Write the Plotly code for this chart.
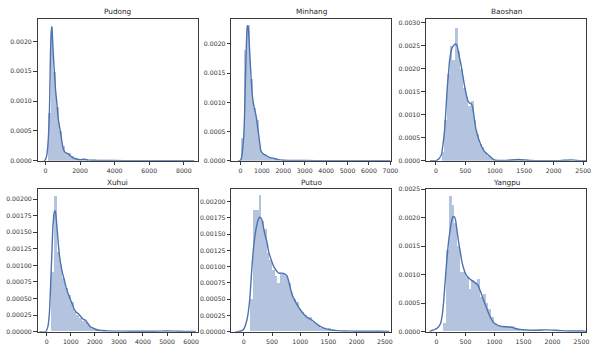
import plotly.graph_objects as go

# ---------------- data ----------------
districts = ["Pudong", "Minhang", "Baoshan", "Xuhui", "Putuo", "Yangpu"]

# histogram bins: first edge, bin width, densities (50 bins each)
pudong_bin_start, pudong_bin_width = 100, 168
pudong_hist = [0.0008, 0.00225, 0.0015, 0.0009, 0.0005, 0.00025, 0.00014, 0.00013, 0.00008, 0.00005,
               0.00003, 0.00002, 0.00003, 0.00002, 0.00001, 0.00001, 0.000006, 0.000006, 0.000004, 0.000006,
               0.000004, 0.000002, 0.000004, 0.000002, 0.000004, 0.000002, 0.000002, 0.000004, 0, 0.000002,
               0.000002, 0, 0.000002, 0, 0.000002, 0.000002, 0, 0, 0.000002, 0,
               0.000002, 0, 0, 0.000002, 0, 0, 0.000002, 0, 0, 0.000002]

minhang_bin_start, minhang_bin_width = 60, 133
minhang_hist = [0.0004, 0.0019, 0.00232, 0.0014, 0.0009, 0.0007, 0.00028, 0.00013, 0.0001, 0.00007,
                0.00005, 0.00004, 0.00002, 0.00001, 0.00001, 0.000008, 0.000006, 0.000004, 0.000004, 0.000002,
                0.000004, 0.000002, 0.000002, 0.000002, 0.000002, 0, 0.000002, 0.000002, 0, 0.000002,
                0.000002, 0, 0.000002, 0, 0.000002, 0, 0.000002, 0, 0, 0.000002,
                0, 0.000002, 0, 0, 0.000002, 0, 0, 0.000002, 0, 0.000002]

baoshan_bin_start, baoshan_bin_width = 100, 45
baoshan_hist = [0.0002, 0.0009, 0.0019, 0.0025, 0.0022, 0.0029, 0.0024, 0.0020, 0.0016, 0.0014,
                0.0012, 0.0013, 0.0009, 0.0006, 0.00038, 0.0003, 0.0002, 0.00012, 0.00008, 0.00004,
                0.00002, 0.00001, 0.00001, 0.00001, 0.00001, 0.00001, 0.00002, 0.00002, 0.00003, 0.00003,
                0.00002, 0.00001, 0, 0, 0.00001, 0, 0, 0, 0, 0,
                0, 0, 0, 0, 0, 0.00001, 0, 0.00002, 0.00002, 0.00001]

xuhui_bin_start, xuhui_bin_width = 170, 116
xuhui_hist = [0.0009, 0.00205, 0.0012, 0.001, 0.0008, 0.00065, 0.00055, 0.00045, 0.0003, 0.00025,
              0.0002, 0.00015, 0.00014, 0.0001, 0.00006, 0.00004, 0.00003, 0.00002, 0.000015, 0.00001,
              0.00001, 0.000008, 0.000008, 0.000006, 0.000006, 0.000004, 0.000006, 0.000004, 0.000004, 0.000004,
              0.000004, 0.000002, 0.000004, 0.000002, 0.000002, 0.000004, 0.000002, 0.000002, 0.000002, 0.000006,
              0.000008, 0.000004, 0.000002, 0.000002, 0.000002, 0, 0.000002, 0, 0, 0.000002]

putuo_bin_start, putuo_bin_width = 123, 47.5
putuo_hist = [0.0005, 0.00187, 0.00187, 0.0021, 0.0017, 0.00157, 0.0012, 0.0011, 0.00095, 0.00085,
              0.00075, 0.0009, 0.0009, 0.00085, 0.00075, 0.0006, 0.0005, 0.00045, 0.00035, 0.0003,
              0.00025, 0.00022, 0.00022, 0.00015, 0.00012, 0.0001, 0.00006, 0.00005, 0.00004, 0.00005,
              0.00002, 0.00002, 0.00001, 0.00001, 0.00001, 0.00001, 0.000005, 0.00001, 0.000005, 0.000005,
              0, 0.000005, 0.000005, 0, 0.000005, 0, 0, 0.000005, 0, 0.000005]

yangpu_bin_start, yangpu_bin_width = 112, 49
yangpu_hist = [0.00014, 0.00143, 0.00238, 0.00222, 0.0019, 0.0015, 0.00105, 0.00105, 0.00095, 0.00075,
               0.0009, 0.00085, 0.00092, 0.0006, 0.00065, 0.0005, 0.0004, 0.00025, 0.00015, 0.00012,
               0.0001, 0.0001, 0.00008, 0.0001, 0.00009, 0.00005, 0.00004, 0.00003, 0.00002, 0.00002,
               0.00002, 0.00003, 0.00003, 0.00002, 0.00002, 0.00001, 0.00001, 0.00001, 0.00001, 0.00001,
               0.000005, 0.000005, 0.000005, 0, 0.000005, 0.000005, 0, 0.000005, 0.000005, 0.000005]

# KDE curves: (value, density) points
pudong_kde = [(-100, 0), (0, 0.00002), (80, 0.0001), (150, 0.0003), (230, 0.00082), (290, 0.0018),
              (330, 0.00215), (365, 0.00225), (400, 0.0021), (460, 0.00175), (514, 0.0015), (580, 0.0012),
              (646, 0.0010), (750, 0.00068), (857, 0.0005), (950, 0.00032), (1050, 0.00018), (1150, 0.00014),
              (1300, 0.00012), (1450, 0.00008), (1600, 0.00005), (1800, 0.00003), (2000, 0.00002),
              (2250, 0.000025), (2500, 0.000012), (3000, 0.000008), (3500, 0.000006), (4000, 0.000004),
              (5000, 0.000003), (6000, 0.000002), (7000, 0.000002), (8000, 0.000002), (8600, 0.000001)]
minhang_kde = [(-100, 0), (0, 0.00001), (46, 0.00005), (100, 0.0002), (157, 0.00045), (200, 0.0009),
               (231, 0.0014), (277, 0.002), (320, 0.0023), (345, 0.00231), (380, 0.0022), (434, 0.00184),
               (508, 0.00134), (560, 0.0011), (618, 0.00095), (680, 0.00085), (738, 0.00075), (790, 0.0006),
               (849, 0.00045), (900, 0.0003), (955, 0.00017), (1048, 0.00012), (1150, 0.0001), (1232, 0.000084),
               (1350, 0.00006), (1540, 0.000045), (1750, 0.00002), (2000, 0.00001), (2500, 0.000006),
               (3000, 0.000004), (4000, 0.000003), (5000, 0.000003), (6000, 0.000002), (6800, 0.000002),
               (7000, 0.000001)]
baoshan_kde = [(-100, 0), (0, 0.000005), (30, 0.00002), (60, 0.00006), (95, 0.00014), (125, 0.0004),
               (151, 0.00071), (175, 0.0012), (196, 0.00163), (215, 0.0019), (235, 0.0022), (274, 0.00245),
               (310, 0.00252), (336, 0.00254), (360, 0.0025), (386, 0.00234), (431, 0.00206), (487, 0.00163),
               (542, 0.00131), (570, 0.00126), (599, 0.00124), (620, 0.00118), (638, 0.00106), (660, 0.00085),
               (683, 0.00067), (738, 0.00043), (780, 0.0003), (822, 0.00021), (860, 0.00016), (906, 0.00011),
               (950, 0.00006), (990, 0.00002), (1050, 0.00001), (1200, 0.00001), (1400, 0.00003),
               (1600, 0.00001), (1900, 0.000005), (2100, 0.000005), (2300, 0.00002), (2450, 0.000005),
               (2550, 0)]
xuhui_kde = [(-300, 0), (-40, 0), (50, 0.00008), (111, 0.000285), (150, 0.0006), (181, 0.00088),
             (215, 0.0012), (247, 0.00152), (280, 0.0017), (316, 0.00181), (357, 0.00182), (390, 0.00172),
             (427, 0.00157), (470, 0.00138), (522, 0.00117), (590, 0.001), (658, 0.00088), (730, 0.00078),
             (797, 0.00068), (865, 0.0006), (933, 0.00053), (1000, 0.00047), (1069, 0.00041), (1140, 0.00034),
             (1208, 0.0003), (1275, 0.00028), (1344, 0.00026), (1410, 0.00023), (1480, 0.0002), (1550, 0.00018),
             (1618, 0.00017), (1690, 0.00013), (1755, 0.0001), (1825, 0.00007), (1891, 0.00006),
             (2000, 0.00004), (2166, 0.00002), (2500, 0.000012), (3000, 0.000008), (3500, 0.000006),
             (4000, 0.000005), (4500, 0.000005), (5000, 0.00001), (5500, 0.000005), (6000, 0.000004),
             (6200, 0.000002)]
putuo_kde = [(-150, 0), (-117, 0), (-50, 0.00001), (0, 0.00004), (58, 0.00019), (105, 0.00049),
             (145, 0.001), (186, 0.0014), (233, 0.00165), (260, 0.00173), (280, 0.00176), (300, 0.00175),
             (321, 0.00172), (356, 0.00157), (379, 0.00148), (410, 0.00138), (443, 0.00122), (496, 0.00108),
             (531, 0.001), (584, 0.00093), (618, 0.0009), (676, 0.0009), (720, 0.00089), (764, 0.00086),
             (800, 0.00076), (852, 0.00058), (910, 0.00047), (969, 0.00038), (1025, 0.00031), (1085, 0.00025),
             (1140, 0.00021), (1202, 0.00018), (1260, 0.00014), (1319, 0.0001), (1380, 0.00007),
             (1437, 0.00005), (1500, 0.000035), (1553, 0.000025), (1650, 0.000015), (1800, 0.00001),
             (2000, 0.000007), (2200, 0.000005), (2400, 0.000005), (2580, 0.000002)]
yangpu_kde = [(-120, 0), (-100, 0.00001), (10, 0.00006), (68, 0.00014), (100, 0.0003), (124, 0.00054),
              (150, 0.0009), (181, 0.00129), (210, 0.0016), (239, 0.00181), (262, 0.00195), (283, 0.00202),
              (305, 0.00202), (324, 0.00198), (350, 0.0018), (380, 0.00158), (410, 0.0014), (437, 0.00123),
              (465, 0.00112), (494, 0.00103), (540, 0.00096), (580, 0.00092), (620, 0.00089), (665, 0.00086),
              (700, 0.00083), (721, 0.0008), (760, 0.0007), (806, 0.00057), (850, 0.00045), (891, 0.00034),
              (935, 0.00024), (977, 0.00017), (1020, 0.00013), (1062, 0.00011), (1130, 0.00009),
              (1203, 0.000085), (1260, 0.00008), (1318, 0.00007), (1380, 0.00005), (1432, 0.00004),
              (1550, 0.00003), (1700, 0.000025), (1900, 0.00003), (2100, 0.00002), (2300, 0.00001),
              (2500, 0.00001), (2600, 0.000003)]

# axis tick labels
pudong_xticks = [0, 2000, 4000, 6000, 8000]
minhang_xticks = [0, 1000, 2000, 3000, 4000, 5000, 6000, 7000]
baoshan_xticks = [0, 500, 1000, 1500, 2000, 2500]
xuhui_xticks = [0, 1000, 2000, 3000, 4000, 5000, 6000]
putuo_xticks = [0, 500, 1000, 1500, 2000, 2500]
yangpu_xticks = [0, 500, 1000, 1500, 2000, 2500]
pudong_yticks = [0, 0.0005, 0.0010, 0.0015, 0.0020]
minhang_yticks = [0, 0.0005, 0.0010, 0.0015, 0.0020]
baoshan_yticks = [0, 0.0005, 0.0010, 0.0015, 0.0020, 0.0025, 0.0030]
xuhui_yticks = [0, 0.00025, 0.0005, 0.00075, 0.001, 0.00125, 0.0015, 0.00175, 0.002]
putuo_yticks = [0, 0.00025, 0.0005, 0.00075, 0.001, 0.00125, 0.0015, 0.00175, 0.002]
yangpu_yticks = [0, 0.0005, 0.0010, 0.0015, 0.0020, 0.0025]

# ---------------- figure ----------------
W, H = 600, 351
BLUE = "#4C72B0"
BAR = "rgba(76,114,176,0.42)"
AXC = "#3a3a3a"
FONT = "DejaVu Sans"

panels = [
    ("Pudong", pudong_bin_start, pudong_bin_width, pudong_hist, pudong_kde, pudong_xticks, pudong_yticks,
     [-457, 8800], [0, 0.00238], ".4f", 0, 0),
    ("Minhang", minhang_bin_start, minhang_bin_width, minhang_hist, minhang_kde, minhang_xticks, minhang_yticks,
     [-430, 7046], [0, 0.00243], ".4f", 1, 0),
    ("Baoshan", baoshan_bin_start, baoshan_bin_width, baoshan_hist, baoshan_kde, baoshan_xticks, baoshan_yticks,
     [-168, 2550], [0, 0.00309], ".4f", 2, 0),
    ("Xuhui", xuhui_bin_start, xuhui_bin_width, xuhui_hist, xuhui_kde, xuhui_xticks, xuhui_yticks,
     [-382, 6274], [0, 0.00215], ".5f", 0, 1),
    ("Putuo", putuo_bin_start, putuo_bin_width, putuo_hist, putuo_kde, putuo_xticks, putuo_yticks,
     [-222, 2616], [0, 0.00219], ".5f", 1, 1),
    ("Yangpu", yangpu_bin_start, yangpu_bin_width, yangpu_hist, yangpu_kde, yangpu_xticks, yangpu_yticks,
     [-182, 2580], [0, 0.0025], ".4f", 2, 1),
]

xdoms = [[38 / W, 200 / W], [234 / W, 396 / W], [431 / W, 593 / W]]
ydoms = [[1 - 160 / H, 1 - 15 / H], [1 - 334.3 / H, 1 - 189 / H]]

fig = go.Figure()
layout = dict(
    width=W, height=H, margin=dict(l=0, r=0, t=0, b=0),
    paper_bgcolor="white", plot_bgcolor="white", showlegend=False,
    font=dict(family=FONT, size=6.2, color="#333333"),
    bargap=0, barmode="overlay",
)
annotations = []
for i, (name, b0, bw, hist, kde, xt, yt, xr, yr, yfmt, col, row) in enumerate(panels):
    k = "" if i == 0 else str(i + 1)
    centers = [b0 + bw * (j + 0.5) for j in range(len(hist))]
    fig.add_trace(go.Bar(x=centers, y=hist, width=[bw] * len(hist), marker=dict(color=BAR, line=dict(width=0)),
                         xaxis="x" + k, yaxis="y" + k, hoverinfo="skip"))
    fig.add_trace(go.Scatter(x=[p[0] for p in kde], y=[p[1] for p in kde], mode="lines",
                             line=dict(color=BLUE, width=1.4, shape="spline", smoothing=0.6),
                             xaxis="x" + k, yaxis="y" + k, hoverinfo="skip"))
    common = dict(showline=True, mirror=True, linecolor=AXC, linewidth=1, showgrid=False, zeroline=False,
                  ticks="outside", ticklen=3.5, tickwidth=0.8, tickcolor=AXC,
                  tickfont=dict(family=FONT, size=6.2, color="#333333"))
    layout["xaxis" + k] = dict(common, domain=xdoms[col], range=xr, tickvals=xt,
                               ticktext=[str(v) for v in xt], anchor="y" + k)
    layout["yaxis" + k] = dict(common, domain=ydoms[row], range=yr, tickvals=yt, tickformat=yfmt,
                               anchor="x" + k)
    annotations.append(dict(text=name, x=(xdoms[col][0] + xdoms[col][1]) / 2, y=ydoms[row][1],
                            xref="paper", yref="paper", xanchor="center", yanchor="bottom", yshift=0.5,
                            showarrow=False, font=dict(family=FONT, size=7.3, color="#262626")))
layout["annotations"] = annotations
fig.update_layout(**layout)
fig.write_html("out.html")
